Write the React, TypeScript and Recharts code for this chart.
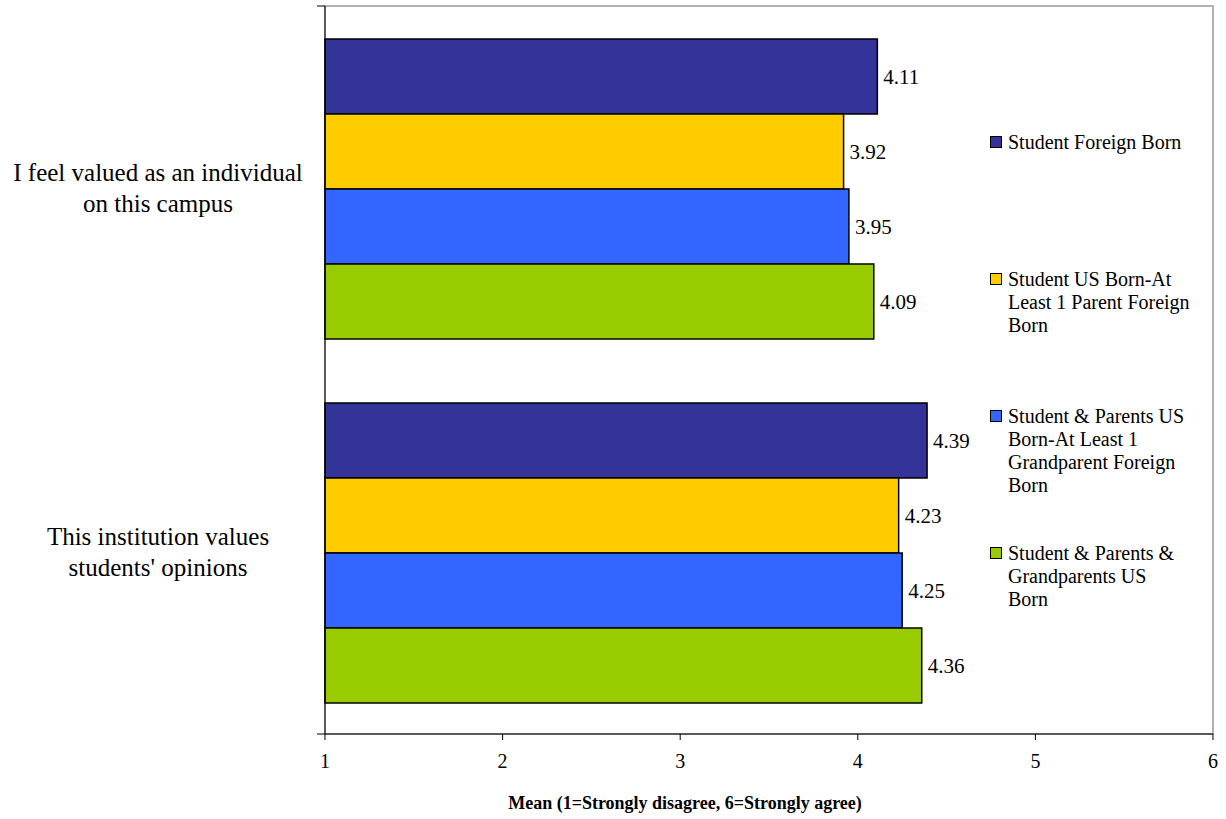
import { BarChart, Bar, XAxis, YAxis, LabelList, ReferenceArea } from 'recharts';

const CATEGORIES = [
  'I feel valued as an individual on this campus',
  "This institution values students' opinions",
];
const CATEGORY_LINES = [
  ['I feel valued as an individual', 'on this campus'],
  ['This institution values', "students' opinions"],
];

const SERIES_NAMES = [
  'Student Foreign Born',
  'Student US Born-At Least 1 Parent Foreign Born',
  'Student & Parents US Born-At Least 1 Grandparent Foreign Born',
  'Student & Parents & Grandparents US Born',
];
const LEGEND_LINES = [
  ['Student Foreign Born'],
  ['Student US Born-At', 'Least 1 Parent Foreign', 'Born'],
  ['Student & Parents US', 'Born-At Least 1', 'Grandparent Foreign', 'Born'],
  ['Student & Parents &', 'Grandparents US', 'Born'],
];
const SERIES_COLORS = ['#333399', '#FFCC00', '#3366FF', '#99CC00'];

const FOREIGN_BORN = [4.11, 4.39];
const PARENT_FOREIGN = [3.92, 4.23];
const GRANDPARENT_FOREIGN = [3.95, 4.25];
const ALL_US_BORN = [4.09, 4.36];
const SERIES_VALUES = [FOREIGN_BORN, PARENT_FOREIGN, GRANDPARENT_FOREIGN, ALL_US_BORN];

const X_TICKS = [1, 2, 3, 4, 5, 6];
// category boundaries (0 = bottom, 2 = top) for the left-axis tick marks
const EDGE_TICKS = [0, 1, 2];
const X_LABEL = 'Mean (1=Strongly disagree, 6=Strongly agree)';

const FONT = 'Liberation Serif';

const data = CATEGORIES.map((category, i) => {
  const row: Record<string, string | number> = { category };
  SERIES_VALUES.forEach((vals, s) => {
    row[`s${s}`] = vals[i];
  });
  return row;
});

function CategoryTick(props: any) {
  const { y, payload } = props;
  const idx = CATEGORIES.indexOf(payload.value);
  const lines = CATEGORY_LINES[idx] ?? [payload.value];
  return (
    <text x={158} y={y} textAnchor="middle" fontSize={25} fontFamily={FONT} fill="#000">
      {lines.map((line, i) => (
        <tspan key={i} x={158} dy={i === 0 ? -7 : 31}>
          {line}
        </tspan>
      ))}
    </text>
  );
}

export default function App() {
  return (
    <div style={{ position: 'absolute', left: 0, top: 0, width: 1226, height: 819, background: '#fff' }}>
      <BarChart
        width={1226}
        height={819}
        data={data}
        layout="vertical"
        margin={{ top: 6, right: 13, bottom: 0, left: 0 }}
        barCategoryGap={33}
        barGap={0}
      >
        <XAxis
          type="number"
          domain={[1, 6]}
          ticks={X_TICKS}
          height={85}
          tickSize={6}
          tickMargin={14}
          axisLine={{ stroke: '#000' }}
          tickLine={{ stroke: '#000' }}
          tick={{ fontSize: 20, fontFamily: FONT, fill: '#000' }}
          label={{
            value: X_LABEL,
            position: 'insideBottom',
            offset: 10,
            dx: -84,
            fontSize: 18,
            fontWeight: 'bold',
            fontFamily: FONT,
            fill: '#000',
          }}
        />
        <YAxis
          yAxisId="axisA"
          type="number"
          domain={[0, 2]}
          ticks={EDGE_TICKS}
          interval={0}
          width={8}
          tickSize={8}
          axisLine={{ stroke: '#000' }}
          tickLine={{ stroke: '#000' }}
          tickFormatter={() => ''}
        />
        <YAxis
          yAxisId="axisB"
          type="category"
          dataKey="category"
          width={317}
          tickLine={false}
          axisLine={false}
          tick={<CategoryTick />}
        />
        <ReferenceArea yAxisId="axisB" x1={1} x2={6} fill="none" stroke="#999" strokeWidth={1.5} />
        {SERIES_NAMES.map((name, s) => (
          <Bar
            key={name}
            yAxisId="axisB"
            name={name}
            dataKey={`s${s}`}
            fill={SERIES_COLORS[s]}
            stroke="#000"
            strokeWidth={1.5}
            isAnimationActive={false}
          >
            <LabelList
              dataKey={`s${s}`}
              position="right"
              offset={6}
              fontSize={21}
              fontFamily={FONT}
              fill="#000"
            />
          </Bar>
        ))}
      </BarChart>

      {/* Legend */}
      <div style={{ position: 'absolute', left: 990, top: 131, fontFamily: FONT, fontSize: 20, lineHeight: '23px', color: '#000' }}>
        {LEGEND_LINES.map((lines, s) => (
          <div key={s} style={{ display: 'flex', alignItems: 'flex-start', height: 137 }}>
            <span
              style={{
                width: 10,
                height: 10,
                marginTop: 5,
                marginRight: 6,
                flexShrink: 0,
                background: SERIES_COLORS[s],
                border: '1.5px solid #000',
              }}
            />
            <div>
              {lines.map((line, i) => (
                <div key={i}>{line}</div>
              ))}
            </div>
          </div>
        ))}
      </div>
    </div>
  );
}
